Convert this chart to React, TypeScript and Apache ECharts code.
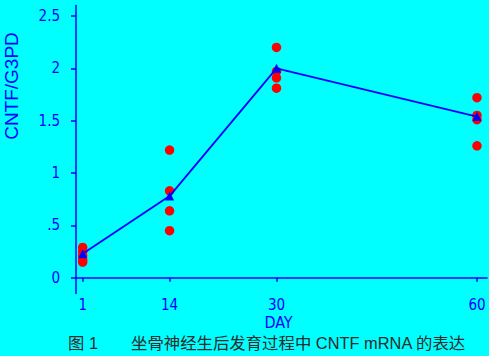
import React, { useEffect, useRef } from "react";
import * as echarts from "echarts";

const days = [1, 14, 30, 60];
const xTickValues = [1, 14, 30, 60];
const yTickValues = [0, 0.5, 1, 1.5, 2, 2.5];
const yTickLabels = ["0", ".5", "1", "1.5", "2", "2.5"];
const day1Values = [0.29, 0.25, 0.21, 0.17, 0.15];
const day14Values = [1.22, 0.83, 0.64, 0.45];
const day30Values = [2.2, 1.97, 1.91, 1.81];
const day60Values = [1.72, 1.55, 1.51, 1.26];
const meanValues = [0.23, 0.78, 2.0, 1.54];
const yAxisTitle = "CNTF/G3PD";
const xAxisTitle = "DAY";
const captionLabel = "图 1";
const captionText = "坐骨神经生后发育过程中 CNTF mRNA 的表达";

const BLUE = "#0000ff";
const RED = "#ff0000";
const BG = "#00ffff";
const TICK_FONT = "'DejaVu Sans Condensed', 'Liberation Sans Narrow', 'DejaVu Sans', sans-serif";
const CAPTION_FONT = "16.4px 'Liberation Sans', 'Noto Sans CJK SC', sans-serif";

export default function App() {
  const ref = useRef<HTMLDivElement>(null);
  useEffect(() => {
    if (!ref.current) return;
    const chart = echarts.init(ref.current, null, { renderer: "svg" });
    const groups = [day1Values, day14Values, day30Values, day60Values];
    const points: number[][] = [];
    groups.forEach((vals, i) => vals.forEach((v) => points.push([days[i], v])));
    chart.setOption({
      animation: false,
      backgroundColor: BG,
      grid: { left: 76, top: 5.5, width: 411, height: 288, containLabel: false },
      xAxis: {
        type: "value",
        min: 0,
        max: 61.5,
        axisLine: { show: true, lineStyle: { color: BLUE, width: 1.5 } },
        axisTick: { show: true, inside: false, length: 4, customValues: xTickValues, lineStyle: { color: BLUE, width: 1.5 } },
        axisLabel: {
          show: true,
          customValues: xTickValues,
          color: BLUE,
          fontFamily: TICK_FONT,
          fontSize: 15,
          margin: 4,
          showMinLabel: true,
          showMaxLabel: true,
        },
        splitLine: { show: false },
      },
      yAxis: {
        type: "value",
        min: -0.15,
        max: 2.6,
        axisLine: { show: true, lineStyle: { color: BLUE, width: 1.5 } },
        axisTick: { show: true, inside: false, length: 5, customValues: yTickValues, lineStyle: { color: BLUE, width: 1.5 } },
        axisLabel: {
          show: true,
          customValues: yTickValues,
          color: BLUE,
          fontFamily: TICK_FONT,
          fontSize: 15,
          margin: 16,
          formatter: (v: number) => {
            const idx = yTickValues.findIndex((t) => Math.abs(t - v) < 1e-6);
            return idx >= 0 ? yTickLabels[idx] : "";
          },
        },
        splitLine: { show: false },
      },
      graphic: [
        {
          type: "text",
          x: 11,
          y: 86,
          rotation: Math.PI / 2,
          style: {
            text: yAxisTitle,
            fill: BLUE,
            font: "19px 'Liberation Sans', Arial, sans-serif",
            textAlign: "center",
            textVerticalAlign: "middle",
          },
        },
        {
          type: "text",
          x: 278.5,
          y: 322,
          style: {
            text: xAxisTitle,
            fill: BLUE,
            font: "16px " + TICK_FONT,
            textAlign: "center",
            textVerticalAlign: "middle",
          },
        },
        {
          type: "text",
          x: 68,
          y: 343,
          style: {
            text: captionLabel,
            fill: "#2b2b2b",
            font: CAPTION_FONT,
            textAlign: "left",
            textVerticalAlign: "middle",
          },
        },
        {
          type: "text",
          x: 131,
          y: 343,
          style: {
            text: captionText,
            fill: "#2b2b2b",
            font: CAPTION_FONT,
            textAlign: "left",
            textVerticalAlign: "middle",
          },
        },
      ],
      series: [
        {
          type: "scatter",
          data: points,
          symbol: "circle",
          symbolSize: 9.5,
          itemStyle: { color: RED, opacity: 1 },
          z: 2,
        },
        {
          type: "line",
          data: days.map((d, i) => [d, meanValues[i]]),
          symbol: "triangle",
          symbolSize: 9,
          lineStyle: { color: BLUE, width: 1.8 },
          itemStyle: { color: BLUE, borderWidth: 0, opacity: 1 },
          z: 3,
        },
      ],
    });
    return () => chart.dispose();
  }, []);
  return (
    <div style={{ position: "fixed", left: 0, top: 0, width: 489, height: 356, background: BG }}>
      <div ref={ref} style={{ width: 489, height: 356 }} />
    </div>
  );
}
